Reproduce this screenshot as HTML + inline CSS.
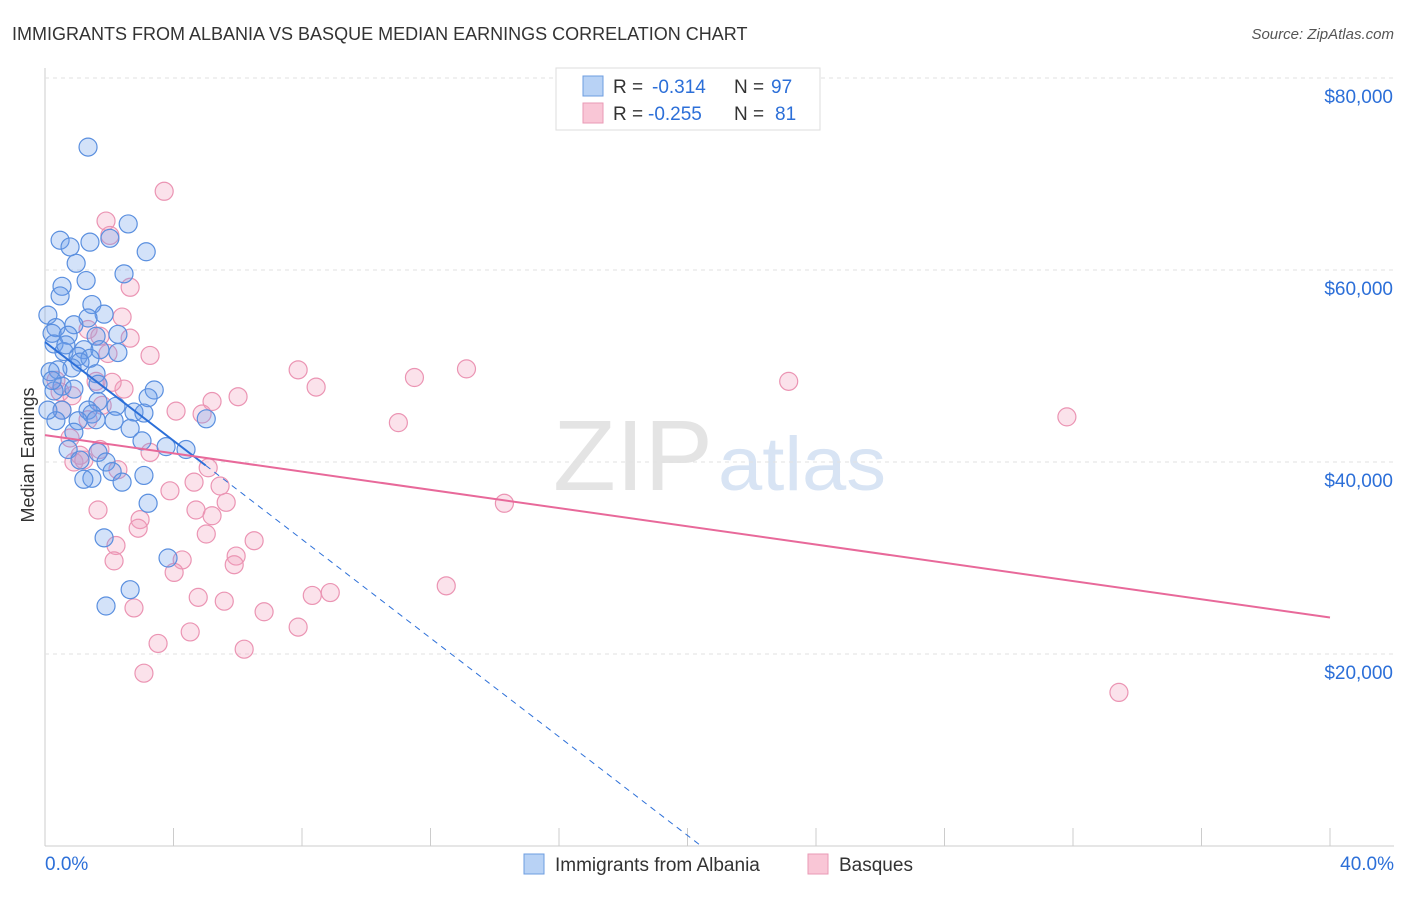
<!DOCTYPE html>
<html><head><meta charset="utf-8"><style>
body{margin:0;background:#fff;font-family:"Liberation Sans",sans-serif}
svg text{font-family:"Liberation Sans",sans-serif}
</style></head><body>
<svg id="c" width="1406" height="892">
<text x="12" y="40" font-size="18" fill="#333">IMMIGRANTS FROM ALBANIA VS BASQUE MEDIAN EARNINGS CORRELATION CHART</text>
<text x="1394" y="39" font-size="15" fill="#555" font-style="italic" text-anchor="end">Source: ZipAtlas.com</text>
<text x="553" y="490" font-size="100" fill="#e4e4e4" font-family="Liberation Serif" textLength="160" lengthAdjust="spacingAndGlyphs">ZIP</text>
<text x="718" y="490" font-size="76" fill="#d8e4f4" textLength="168" lengthAdjust="spacingAndGlyphs">atlas</text>
<text transform="translate(34,455) rotate(-90)" font-size="18" fill="#333" text-anchor="middle">Median Earnings</text>
<g id="grid"></g><g id="pts"></g><g id="trend"></g>
<g>
<rect x="556" y="68" width="264" height="62" fill="#fff" stroke="#ddd"/>
<rect x="583" y="76" width="20" height="20" fill="#b8d2f5" stroke="#6d9de0"/>
<rect x="583" y="103" width="20" height="20" fill="#f9c6d6" stroke="#e99ab5"/>
<text x="613" y="93" font-size="19" fill="#333">R =</text>
<text x="652" y="93" font-size="19" fill="#2c6fd8">-0.314</text>
<text x="734" y="93" font-size="19" fill="#333">N =</text>
<text x="771" y="93" font-size="19" fill="#2c6fd8">97</text>
<text x="613" y="120" font-size="19" fill="#333">R =</text>
<text x="648" y="120" font-size="19" fill="#2c6fd8">-0.255</text>
<text x="734" y="120" font-size="19" fill="#333">N =</text>
<text x="775" y="120" font-size="19" fill="#2c6fd8">81</text>
</g>
<g>
<rect x="524" y="854" width="20" height="20" fill="#b8d2f5" stroke="#6d9de0"/>
<text x="555" y="871" font-size="19" fill="#333">Immigrants from Albania</text>
<rect x="808" y="854" width="20" height="20" fill="#f9c6d6" stroke="#e99ab5"/>
<text x="839" y="871" font-size="19" fill="#333">Basques</text>
</g>
<text x="45" y="870" font-size="19" fill="#2c6fd8">0.0%</text>
<text x="1394" y="870" font-size="19" fill="#2c6fd8" text-anchor="end">40.0%</text>
</svg>
<script>
const yTicks=[20000,40000,60000,80000];
const yTickLabels=["$20,000","$40,000","$60,000","$80,000"];
const xTicks=[0,4,8,12,16,20,24,28,32,36,40];
const albaniaX=[1.34,2.59,0.47,2.02,1.40,0.78,3.15,0.97,2.46,1.28,0.53,0.47,1.46,0.09,1.84,1.34,0.34,0.90,0.22,0.72,2.27,1.59,0.28,1.21,0.59,1.03,2.27,1.71,1.40,1.09,0.84,0.40,0.16,1.59,0.53,0.90,0.28,1.65,3.40,3.21,1.65,2.21,1.34,0.53,1.46,2.77,3.08,5.02,0.34,1.03,1.59,2.15,2.65,0.90,3.02,3.77,4.39,0.72,1.65,1.09,1.90,2.09,3.08,1.46,1.21,2.40,3.21,1.84,3.83,2.65,1.90,0.09,0.22,0.65];
const albaniaY=[72800,64800,63100,63300,62900,62400,61900,60700,59600,58900,58300,57300,56400,55300,55400,55000,54000,54300,53400,53200,53300,53100,52300,51700,51500,51000,51400,51700,50800,50400,49800,49600,49400,49200,47900,47600,47400,48100,47500,46700,46300,45800,45400,45400,45000,45200,45100,44500,44300,44300,44400,44300,43500,43100,42200,41600,41300,41300,41000,40200,40000,39000,38600,38300,38200,37900,35700,32100,30000,26700,25000,45400,48500,52200];
const basqueX=[3.71,1.90,2.02,2.65,2.40,1.34,1.71,2.65,3.27,1.96,7.88,13.12,11.50,8.44,23.15,31.81,11.00,1.59,2.46,2.09,0.34,0.47,0.84,5.20,6.01,4.08,4.89,1.78,0.53,1.34,0.78,3.27,1.09,0.90,5.08,2.27,4.64,3.89,5.45,5.64,14.30,1.65,4.70,5.20,2.96,2.90,5.02,6.51,2.21,5.95,5.89,2.15,4.27,4.02,12.49,8.88,8.32,4.77,5.58,2.77,6.82,7.88,4.52,3.52,6.20,3.08,33.43,1.21,1.71];
const basqueY=[68200,65100,63600,58200,55100,53800,53100,52900,51100,51300,49600,49700,48800,47800,48400,44700,44100,48400,47600,48300,48500,47300,46900,46300,46800,45300,45000,45900,45400,44400,42500,41000,40700,40000,39400,39200,37900,37000,37500,35800,35700,35000,35000,34400,34000,33100,32500,31800,31300,30200,29300,29700,29800,28500,27100,26400,26100,25900,25500,24800,24400,22800,22300,21100,20500,18000,16000,40200,41300];
const albaniaTrend=[52500,-2570];
const basqueTrend=[42800,-475];
const NS="http://www.w3.org/2000/svg";
const xs=v=>45+v/40*1285, ys=v=>846-v/20000*192;
function mk(t,a,p){const e=document.createElementNS(NS,t);for(const k in a)e.setAttribute(k,a[k]);p.appendChild(e);return e;}
const g=document.getElementById('grid');
let ax=mk('line',{x1:45,y1:68,x2:45,y2:846,stroke:'#ccc'},g);


let bx=mk('line',{x1:45,y1:846,x2:1394,y2:846,stroke:'#ccc'},g);


yTicks.forEach((v,i)=>{
 const l=mk('line',{x1:45,x2:1394,y1:ys(v),y2:ys(v),stroke:'#e2e2e2','stroke-dasharray':'4,4'},g);
 
 
 const t=mk('text',{x:1393,y:ys(v)+25,'font-size':19,fill:'#2c6fd8','text-anchor':'end'},g);
 t.textContent=yTickLabels[i];
 
 
});
xTicks.forEach(v=>{
 const l=mk('line',{x1:xs(v),x2:xs(v),y1:828,y2:846,stroke:'#ccc'},g);
 
 
});
const p=document.getElementById('pts');
function pts(X,Y,f,s,n){X.forEach((x,i)=>{const c=mk('circle',{cx:xs(x),cy:ys(Y[i]),r:9,fill:f,stroke:s,'stroke-width':1.2},p);
 
 });}
pts(basqueX,basqueY,'rgba(243,160,190,0.3)','#eb94b3','basque-point');
pts(albaniaX,albaniaY,'rgba(110,160,235,0.3)','#5a8fdf','albania-point');
const tr=document.getElementById('trend');
const f=(t,x)=>t[0]+t[1]*x;
let l1=mk('line',{x1:xs(0),y1:ys(f(albaniaTrend,0)),x2:xs(5),y2:ys(f(albaniaTrend,5)),stroke:'#2c6fd8','stroke-width':2},tr);


const xe=-albaniaTrend[0]/albaniaTrend[1];
let l2=mk('line',{x1:xs(5),y1:ys(f(albaniaTrend,5)),x2:xs(xe),y2:ys(0),stroke:'#2c6fd8','stroke-width':1,'stroke-dasharray':'6,5'},tr);


let l3=mk('line',{x1:xs(0),y1:ys(f(basqueTrend,0)),x2:xs(40),y2:ys(f(basqueTrend,40)),stroke:'#e8699a','stroke-width':2},tr);


</script>
</body></html>
